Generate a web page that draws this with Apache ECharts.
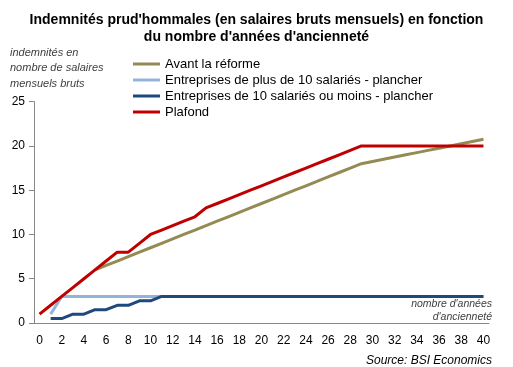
<!DOCTYPE html>
<html><head><meta charset="utf-8">
<script src="https://cdn.jsdelivr.net/npm/echarts@6/dist/echarts.min.js"></script>
<style>html,body{margin:0;padding:0;background:#fff}#c{width:513px;height:367px}</style>
</head><body><div id="c"></div>
<script>
var years = [];
for (var i = 0; i <= 40; i++) years.push(String(i));
var seriesNames = ["Avant la réforme", "Entreprises de plus de 10 salariés - plancher", "Entreprises de 10 salariés ou moins - plancher", "Plafond"];
var avantReforme = [null,null,null,null,null,6,6.5,7,7.5,8,8.5,9,9.5,10,10.5,11,11.5,12,12.5,13,13.5,14,14.5,15,15.5,16,16.5,17,17.5,18,18.25,18.5,18.75,19,19.25,19.5,19.75,20,20.25,20.5,20.75];
var plancherPlus10 = [null,1,3,3,3,3,3,3,3,3,3,3,3,3,3,3,3,3,3,3,3,3,3,3,3,3,3,3,3,3,3,3,3,3,3,3,3,3,3,3,3];
var plancherMoins10 = [null,0.5,0.5,1,1,1.5,1.5,2,2,2.5,2.5,3,3,3,3,3,3,3,3,3,3,3,3,3,3,3,3,3,3,3,3,3,3,3,3,3,3,3,3,3,3];
var plafond = [1,2,3,4,5,6,7,8,8,9,10,10.5,11,11.5,12,13,13.5,14,14.5,15,15.5,16,16.5,17,17.5,18,18.5,19,19.5,20,20,20,20,20,20,20,20,20,20,20,20];
var colors = ["#948A54", "#95B3D7", "#1F497D", "#C00000"];
var values = [avantReforme, plancherPlus10, plancherMoins10, plafond];

var chart = echarts.init(document.getElementById('c'), null, {renderer: 'canvas'});
var font = "'Liberation Sans', Arial, sans-serif";
var series = values.map(function (d, k) {
  return {
    name: seriesNames[k], type: 'line', data: d, showSymbol: false, symbol: 'none',
    connectNulls: false, animation: false,
    lineStyle: {color: colors[k], width: 3}, itemStyle: {color: colors[k]}
  };
});
chart.setOption({
  animation: false,
  textStyle: {fontFamily: font},
  title: {
    text: "Indemnités prud'hommales (en salaires bruts mensuels) en fonction\ndu nombre d'années d'ancienneté",
    left: 'center', top: 7,
    textStyle: {fontFamily: font, fontSize: 14, fontWeight: 'bold', color: '#000', lineHeight: 17}
  },
  legend: {
    orient: 'vertical', left: 128, top: 52, itemWidth: 27, itemHeight: 3, itemGap: 2,
    icon: 'rect',
    textStyle: {fontFamily: font, fontSize: 13, color: '#000', lineHeight: 14},
    data: seriesNames
  },
  grid: {left: 34, right: 24, top: 101.7, bottom: 44, containLabel: false},
  xAxis: {
    type: 'category', data: years, boundaryGap: true,
    axisLine: {lineStyle: {color: '#868686', width: 1}},
    axisTick: {interval: 1, length: 5, lineStyle: {color: '#868686'}},
    axisLabel: {interval: 1, color: '#000', fontSize: 12, fontFamily: font, margin: 12},
    splitLine: {show: false}
  },
  yAxis: {
    type: 'value', min: 0, max: 25, interval: 5,
    axisLine: {show: true, lineStyle: {color: '#868686', width: 1}},
    axisTick: {show: true, length: 5, lineStyle: {color: '#868686'}},
    axisLabel: {color: '#000', fontSize: 12, fontFamily: font, margin: 9},
    splitLine: {show: false}
  },
  graphic: [
    {type: 'text', left: 10, top: 45, style: {text: "indemnités en\nnombre de salaires\nmensuels bruts", font: "italic 11px " + font, fill: '#404040', lineHeight: 15.5}},
    {type: 'text', right: 21, top: 299, style: {text: "nombre d'années", font: "italic 10.5px " + font, fill: '#404040'}},
    {type: 'text', right: 21, top: 312, style: {text: "d'ancienneté", font: "italic 10.5px " + font, fill: '#404040'}},
    {type: 'text', right: 21, top: 355, style: {text: "Source: BSI Economics", font: "italic 12px " + font, fill: '#000'}}
  ],
  series: series
});
</script></body></html>
